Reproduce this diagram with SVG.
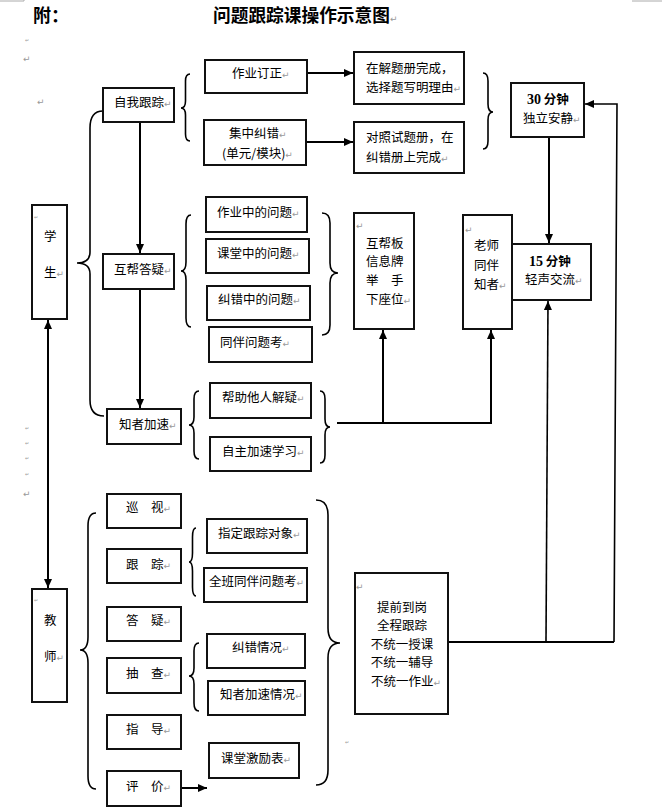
<svg xmlns="http://www.w3.org/2000/svg" width="662" height="811" viewBox="0 0 662 811">
<style>
.box{fill:#fff;stroke:#111;stroke-width:2}
.t{font-family:"Noto Sans CJK SC","Noto Sans",sans-serif;font-size:12.5px;fill:#000}
.b{font-weight:bold}
.num{font-family:"Liberation Serif",serif;font-weight:bold;font-size:14px}
.pm{font-family:"DejaVu Sans",sans-serif;font-size:9px;fill:#999;font-weight:normal}
.tiny{font-family:"DejaVu Sans",sans-serif;font-size:5px;fill:#999}
.ln{fill:none;stroke:#000;stroke-width:2}
.thin{fill:none;stroke:#000;stroke-width:1.6}
.br{fill:none;stroke:#000;stroke-width:1.6}
.corner{fill:none;stroke:#aaa;stroke-width:1}
</style>
<defs>
<marker id="ah" markerUnits="userSpaceOnUse" markerWidth="10" markerHeight="9" refX="9" refY="4" orient="auto-start-reverse">
<path d="M0,0 L9,4 L0,8 Z" fill="#000"/>
</marker>
</defs>

<g id="page-marks">
<path class="corner" d="M0,1 H24 V0"/>
<path class="corner" d="M632,1 H662"/>
<text class="tiny" x="25" y="42">↵</text>
<text class="pm" x="23" y="62">↵</text>
<text class="pm" x="37" y="105">↵</text>
<text class="tiny" x="25" y="430">↵</text>
<text class="tiny" x="25" y="445">↵</text>
<text class="tiny" x="25" y="460">↵</text>
<text class="tiny" x="25" y="476">↵</text>
<text class="pm" x="23" y="497">↵</text>
<text class="tiny" x="308" y="357">↵</text>
<text class="tiny" x="345" y="744">↵</text>
</g>

<g id="title">
<text class="t b" x="33" y="22" font-size="18" style="font-size:18px">附：</text>
<text class="t b" x="213" y="22" style="font-size:17.7px">问题跟踪课操作示意图<tspan class="pm">↵</tspan></text>
</g>

<g id="connectors">
<line class="ln" x1="140" y1="122" x2="140" y2="253" marker-end="url(#ah)"/>
<line class="ln" x1="140" y1="289" x2="140" y2="408" marker-end="url(#ah)"/>
<line class="ln" x1="307" y1="73" x2="353" y2="73" marker-end="url(#ah)"/>
<line class="ln" x1="306" y1="142" x2="353" y2="142" marker-end="url(#ah)"/>
<line class="ln" x1="549" y1="137" x2="549" y2="243" marker-end="url(#ah)"/>
<line class="ln" x1="337" y1="423" x2="492" y2="423"/>
<line class="ln" x1="383" y1="423" x2="383" y2="330" marker-end="url(#ah)"/>
<line class="ln" x1="491" y1="423" x2="491" y2="330" marker-end="url(#ah)"/>
<line class="ln" x1="448" y1="642" x2="614" y2="642"/>
<line class="thin" x1="546" y1="642" x2="548" y2="301" marker-end="url(#ah)"/>
<polyline class="thin" points="614,642 617,104 585,104" marker-end="url(#ah)"/>
<line class="ln" x1="48" y1="320" x2="48" y2="588" marker-start="url(#ah)" marker-end="url(#ah)"/>
<line class="ln" x1="181" y1="788" x2="207" y2="788" marker-end="url(#ah)"/>
</g>

<g id="braces">
<path class="br" d="M190,74 Q185.5,74 185.5,81 L185.5,101 Q185.5,108 181,108 Q185.5,108 185.5,115 L185.5,134 Q185.5,141 190,141"/>
<path class="br" d="M483,73 Q488,73 488,81 L488,104 Q488,112 493,112 Q488,112 488,120 L488,141 Q488,149 483,149"/>
<path class="br" d="M103,111 Q90,111 90,128 L90,252 Q90,263 77,263 Q90,263 90,274 L90,400 Q90,416 104,416"/>
<path class="br" d="M191,215 Q186,215 186,224 L186,262 Q186,271 181,271 Q186,271 186,280 L186,318 Q186,327 191,327"/>
<path class="br" d="M322,213 Q330,213 330,223 L330,263 Q330,273 338,273 Q330,273 330,283 L330,325 Q330,335 322,335"/>
<path class="br" d="M199,391 Q194,391 194,399 L194,417 Q194,425 189,425 Q194,425 194,433 L194,451 Q194,459 199,459"/>
<path class="br" d="M320,391 Q325,391 325,399 L325,419 Q325,427 330,427 Q325,427 325,435 L325,455 Q325,463 320,463"/>
<path class="br" d="M96,513 Q88,513 88,526 L88,637 Q88,650 80,650 Q88,650 88,663 L88,776 Q88,789 96,789"/>
<path class="br" d="M196,528 Q192.5,528 192.5,537 L192.5,553 Q192.5,562 189,562 Q192.5,562 192.5,571 L192.5,587 Q192.5,596 196,596"/>
<path class="br" d="M199,643 Q194,643 194,651 L194,668 Q194,676 189,676 Q194,676 194,684 L194,703 Q194,711 199,711"/>
<path class="br" d="M316,500 Q328,500 328,515 L328,628 Q328,643 340,643 Q328,643 328,658 L328,770 Q328,785 316,785"/>
</g>

<g id="n-xuesheng"><rect class="box" x="32" y="205" width="35" height="114"/>
<text class="tiny" x="34" y="219">↵</text>
<text class="t" x="44" y="241">学</text><text class="t" x="44" y="277">生<tspan class="pm">↵</tspan></text></g>

<g id="n-zwgz"><rect class="box" x="103" y="88" width="71" height="34"/>
<text class="t" x="114" y="107">自我跟踪<tspan class="pm">↵</tspan></text></g>

<g id="n-hbdy"><rect class="box" x="103" y="254" width="71" height="35"/>
<text class="t" x="114" y="274">互帮答疑<tspan class="pm">↵</tspan></text></g>

<g id="n-zzjs"><rect class="box" x="107" y="409" width="74" height="35"/>
<text class="t" x="119" y="429">知者加速<tspan class="pm">↵</tspan></text></g>

<g id="n-zydz"><rect class="box" x="205" y="60" width="102" height="33"/>
<text class="t" x="232" y="78">作业订正<tspan class="pm">↵</tspan></text></g>

<g id="n-jzjc"><rect class="box" x="204" y="120" width="102" height="45"/>
<text class="t" x="229" y="138">集中纠错<tspan class="pm">↵</tspan></text>
<text class="t" x="222" y="158">(单元/模块)<tspan class="pm">↵</tspan></text></g>

<g id="n-zjtc"><rect class="box" x="354" y="52" width="110" height="52"/>
<text class="t" x="366" y="73">在解题册完成，</text>
<text class="t" x="366" y="92">选择题写明理由<tspan class="pm">↵</tspan></text></g>

<g id="n-dzsc"><rect class="box" x="354" y="122" width="110" height="51"/>
<text class="t" x="366" y="142">对照试题册，在</text>
<text class="t" x="366" y="162">纠错册上完成<tspan class="pm">↵</tspan></text></g>

<g id="n-30min"><rect class="box" x="511" y="83" width="73" height="54"/>
<text class="t b" x="527" y="104"><tspan class="num">30</tspan> 分钟</text>
<text class="t" x="523" y="123">独立安静<tspan class="pm">↵</tspan></text></g>

<g id="n-zyzdwt"><rect class="box" x="206" y="197" width="101" height="35"/>
<text class="t" x="217" y="217">作业中的问题<tspan class="pm">↵</tspan></text></g>

<g id="n-ktzdwt"><rect class="box" x="206" y="239" width="103" height="34"/>
<text class="t" x="217" y="258">课堂中的问题<tspan class="pm">↵</tspan></text></g>

<g id="n-jczdwt"><rect class="box" x="207" y="286" width="103" height="34"/>
<text class="t" x="218" y="304">纠错中的问题<tspan class="pm">↵</tspan></text></g>

<g id="n-tbwtk"><rect class="box" x="209" y="327" width="103" height="35"/>
<text class="t" x="220" y="347">同伴问题考<tspan class="pm">↵</tspan></text></g>

<g id="n-hbb"><rect class="box" x="354" y="213" width="60" height="116"/>
<text class="pm" x="356" y="229">↵</text>
<text class="t" x="366" y="248">互帮板</text>
<text class="t" x="366" y="266">信息牌</text>
<text class="t" x="366" y="285">举　手</text>
<text class="t" x="366" y="304">下座位<tspan class="pm">↵</tspan></text></g>

<g id="n-lstb"><rect class="box" x="463" y="215" width="49" height="114"/>
<text class="pm" x="465" y="233">↵</text>
<text class="t" x="474" y="250">老师</text>
<text class="t" x="474" y="270">同伴</text>
<text class="t" x="474" y="289">知者<tspan class="pm">↵</tspan></text></g>

<g id="n-15min"><rect class="box" x="512" y="244" width="79" height="56"/>
<text class="t b" x="529" y="266"><tspan class="num">15</tspan> 分钟</text>
<text class="t" x="525" y="284">轻声交流<tspan class="pm">↵</tspan></text></g>

<g id="n-bzjy"><rect class="box" x="210" y="383" width="101" height="35"/>
<text class="t" x="222" y="402">帮助他人解疑<tspan class="pm">↵</tspan></text></g>

<g id="n-zzjsxx"><rect class="box" x="210" y="437" width="101" height="34"/>
<text class="t" x="222" y="456">自主加速学习<tspan class="pm">↵</tspan></text></g>

<g id="n-jiaoshi"><rect class="box" x="32" y="589" width="35" height="113"/>
<text class="tiny" x="34" y="602">↵</text>
<text class="t" x="44" y="625">教</text><text class="t" x="44" y="661">师<tspan class="pm">↵</tspan></text></g>

<g id="n-xunshi"><rect class="box" x="107" y="494" width="74" height="34"/>
<text class="t" x="126" y="512">巡　视<tspan class="pm">↵</tspan></text></g>

<g id="n-genzong"><rect class="box" x="107" y="549" width="74" height="34"/>
<text class="t" x="126" y="569">跟　踪<tspan class="pm">↵</tspan></text></g>

<g id="n-dayi"><rect class="box" x="107" y="607" width="74" height="34"/>
<text class="t" x="126" y="625">答　疑<tspan class="pm">↵</tspan></text></g>

<g id="n-chouzha"><rect class="box" x="107" y="658" width="74" height="35"/>
<text class="t" x="126" y="678">抽　查<tspan class="pm">↵</tspan></text></g>

<g id="n-zhidao"><rect class="box" x="107" y="715" width="74" height="34"/>
<text class="t" x="126" y="734">指　导<tspan class="pm">↵</tspan></text></g>

<g id="n-pingjia"><rect class="box" x="107" y="771" width="74" height="35"/>
<text class="t" x="126" y="791">评　价<tspan class="pm">↵</tspan></text></g>

<g id="n-zdgzdx"><rect class="box" x="207" y="519" width="100" height="34"/>
<text class="t" x="218" y="538">指定跟踪对象<tspan class="pm">↵</tspan></text></g>

<g id="n-qbtb"><rect class="box" x="204" y="568" width="103" height="34"/>
<text class="t" x="209" y="586">全班同伴问题考<tspan class="pm">↵</tspan></text></g>

<g id="n-jcqk"><rect class="box" x="207" y="634" width="98" height="34"/>
<text class="t" x="232" y="652">纠错情况<tspan class="pm">↵</tspan></text></g>

<g id="n-zzjsqk"><rect class="box" x="208" y="681" width="97" height="34"/>
<text class="t" x="220" y="699">知者加速情况<tspan class="pm">↵</tspan></text></g>

<g id="n-ktjlb"><rect class="box" x="209" y="743" width="90" height="35"/>
<text class="t" x="221" y="763">课堂激励表<tspan class="pm">↵</tspan></text></g>

<g id="n-tqdg"><rect class="box" x="355" y="573" width="93" height="141"/>
<text class="pm" x="356" y="590">↵</text>
<text class="t" x="402" y="612" text-anchor="middle">提前到岗</text>
<text class="t" x="402" y="630" text-anchor="middle">全程跟踪</text>
<text class="t" x="402" y="649" text-anchor="middle">不统一授课</text>
<text class="t" x="402" y="667" text-anchor="middle">不统一辅导</text>
<text class="t" x="371" y="686">不统一作业<tspan class="pm">↵</tspan></text></g>
</svg>
